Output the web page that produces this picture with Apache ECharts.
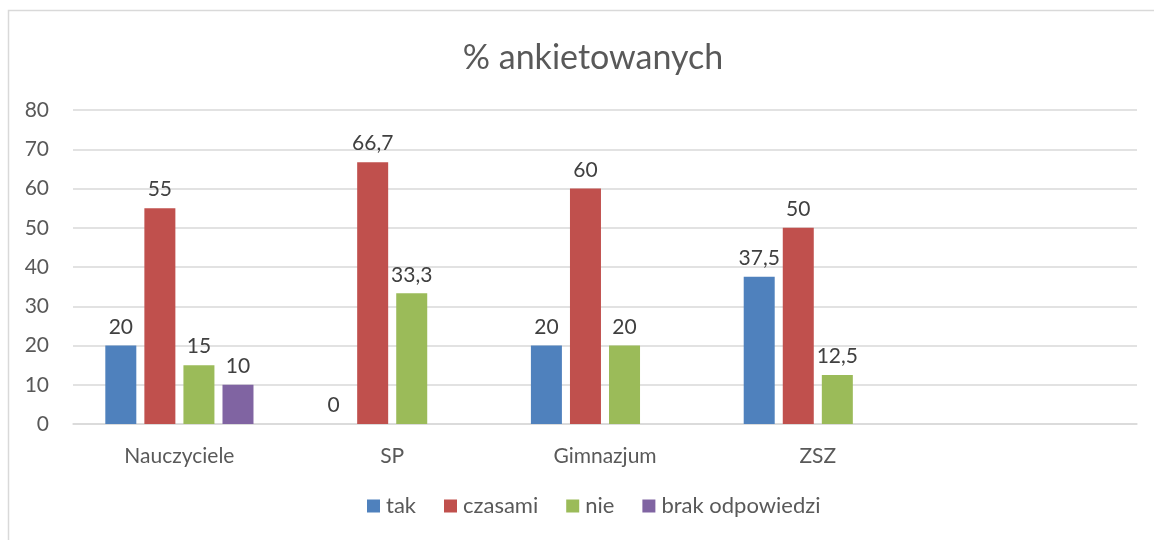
<!DOCTYPE html>
<html>
<head>
<meta charset="utf-8">
<script src="https://cdn.jsdelivr.net/npm/echarts@6/dist/echarts.min.js"></script>
<style>
  html, body { margin: 0; padding: 0; background: #fff; }
  #chart { width: 1154px; height: 540px; }
</style>
</head>
<body>
<div id="chart"></div>
<script>
// dane z wykresu
const categories = ['Nauczyciele', 'SP', 'Gimnazjum', 'ZSZ', '']
const seriesNames = ['tak', 'czasami', 'nie', 'brak odpowiedzi']
const tak = [20, 0, 20, 37.5, null]
const czasami = [55, 66.7, 60, 50, null]
const nie = [15, 33.3, 20, 12.5, null]
const brak = [10, null, null, null, null]
const colors = ['#4f81bd', '#c0504d', '#9bbb59', '#8064a2']

const font = 'Lato, "Open Sans", sans-serif'

const fmt = p => String(p.value).replace('.', ',')

const mkSeries = (name, data, i) => ({
  name,
  type: 'bar',
  data,
  barWidth: 31,
  barGap: '26%',
  itemStyle: {color: colors[i]},
  label: {
    show: true,
    position: 'top',
    distance: 8,
    formatter: fmt,
    color: '#404040',
    fontSize: 21,
    fontFamily: font
  }
})

const chart = echarts.init(document.getElementById('chart'))
chart.setOption({
  animation: false,
  title: {
    text: '% ankietowanych',
    left: 588,
    top: 36,
    textAlign: 'center',
    textStyle: {color: '#595959', fontSize: 34, fontWeight: 'normal', fontFamily: font}
  },
  legend: {
    data: seriesNames,
    bottom: 18,
    left: 362,
    itemWidth: 13,
    itemHeight: 13,
    itemGap: 28,
    icon: 'rect',
    textStyle: {color: '#595959', fontSize: 22, fontFamily: font, padding: [0, 0, 0, 1]}
  },
  grid: {left: 73, right: 17, top: 110, bottom: 116},
  xAxis: {
    type: 'category',
    data: categories,
    axisLine: {lineStyle: {color: '#d9d9d9', width: 1.5}},
    axisTick: {show: false},
    axisLabel: {color: '#595959', fontSize: 21, fontFamily: font, margin: 22}
  },
  yAxis: {
    type: 'value',
    min: 0,
    max: 80,
    interval: 10,
    axisLine: {show: false},
    axisTick: {show: false},
    splitLine: {lineStyle: {color: '#d9d9d9', width: 1.5}},
    axisLabel: {color: '#595959', fontSize: 21, fontFamily: font, margin: 24}
  },
  graphic: [{
    type: 'rect',
    shape: {x: 8.5, y: 10.5, width: 1200, height: 600},
    style: {fill: 'none', stroke: '#d9d9d9', lineWidth: 1.5},
    silent: true
  }],
  series: [
    mkSeries(seriesNames[0], tak, 0),
    mkSeries(seriesNames[1], czasami, 1),
    mkSeries(seriesNames[2], nie, 2),
    mkSeries(seriesNames[3], brak, 3)
  ]
})
</script>
</body>
</html>
